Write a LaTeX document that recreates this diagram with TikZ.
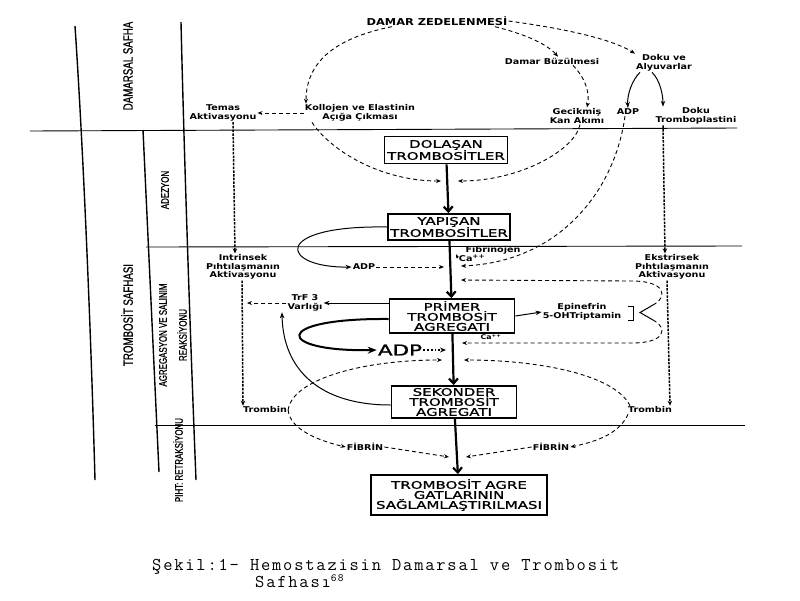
\documentclass[tikz,border=0pt]{standalone}
\usepackage{fontspec}
\setmainfont{DejaVu Sans}
\newfontfamily\boxfont[FakeStretch=1.43, FakeBold=1.2]{DejaVu Sans}
\newfontfamily\lblfont[FakeStretch=1.2]{DejaVu Sans}
\newfontfamily\sidefont[FakeStretch=0.72, FakeBold=0.8]{Liberation Sans}
\newfontfamily\capfont[LetterSpace=10]{Latin Modern Mono}
\usetikzlibrary{arrows.meta}

\tikzset{
  box/.style={draw, line width=1.8pt, align=center, inner sep=0pt, font=\boxfont\fontsize{10.5}{10}\selectfont},
  lbl/.style={align=center, inner sep=1pt, font=\lblfont\bfseries\fontsize{8}{8.5}\selectfont},
  side/.style={rotate=90, inner sep=0pt, font=\sidefont\fontsize{11}{12}\selectfont},
  captxt/.style={anchor=base west, inner sep=0pt, font=\capfont\fontsize{18}{19}\selectfont},
  tabline/.style={line width=1.4pt},
  hline/.style={line width=0.9pt},
  dsh/.style={dash pattern=on 4pt off 3pt, line width=0.9pt, -{Stealth[length=5pt,width=4pt]}},
  dts/.style={dash pattern=on 2.5pt off 1.2pt, line width=1.5pt, -{Stealth[length=5pt,width=4.5pt]}},
  sol/.style={line width=1pt, -{Stealth[length=6pt,width=4.5pt]}},
  mainarr/.style={line width=2.2pt, -{Straight Barb[length=5pt,width=9pt]}}
}

\begin{document}
\begin{tikzpicture}[x=1pt, y=-1pt]
\useasboundingbox (0,0) rectangle (800,600);
% table
\draw[tabline] (75,26) .. controls (82,130) and (90,300) .. (95,480);
\draw[tabline] (181,22) .. controls (184,150) and (190,330) .. (196,480);
\draw[tabline] (143,130) -- (159,472);
\draw[hline] (30,131) -- (737,128);
\draw[hline] (146,247) -- (742,246);
\draw[hline] (155,425) -- (745,425);
\node[side, font=\sidefont\fontsize{13.5}{14}\selectfont] (sdam) at (128,66) {DAMARSAL SAFHA};
\node[side, font=\sidefont\fontsize{13.5}{14}\selectfont] (strom) at (127,315) {TROMBOSİT SAFHASI};
\node[side] (sade) at (165,190) {ADEZYON};
\node[side] (sagr) at (163,335) {AGREGASYON VE SALINIM};
\node[side] (srea) at (182,335) {REAKSİYONU};
\node[side] (spih) at (178,460) {PIHT: RETRAKSİYONU};
% boxes
\node[box, minimum width=123pt, minimum height=27pt, font=\boxfont\fontsize{10.5}{12}\selectfont] (dol) at (446,150) {DOLAŞAN\\TROMBOSİTLER};
\node[box, minimum width=122pt, minimum height=26pt, font=\boxfont\fontsize{10.5}{12}\selectfont] (yap) at (449,227) {YAPIŞAN\\TROMBOSİTLER};
\node[box, minimum width=125pt, minimum height=34pt] (pri) at (452,316) {PRİMER\\TROMBOSİT\\AGREGATI};
\node[box, minimum width=125pt, minimum height=32pt] (sek) at (454,402) {SEKONDER\\TROMBOSİT\\AGREGATI};
\node[box, minimum width=176pt, minimum height=40pt] (sag) at (459,495) {TROMBOSİT AGRE\\GATLARININ\\SAĞLAMLAŞTIRILMASI};
% labels
\node[lbl, font=\lblfont\bfseries\fontsize{9.5}{10}\selectfont] (dz) at (437,21) {DAMAR ZEDELENMESİ};
\node[lbl] (db) at (552,61) {Damar Büzülmesi};
\node[lbl] (doku) at (664,63) {Doku ve\\Alyuvarlar};
\node[lbl] (gec) at (577,116) {Gecikmiş\\Kan Akımı};
\node[lbl] (adpt) at (628,112) {ADP};
\node[lbl] (tromb) at (696,116) {Doku\\Tromboplastini};
\node[lbl] (kol) at (360,113) {Kollojen ve Elastinin\\Açığa Çıkması};
\node[lbl] (temas) at (223,113) {Temas\\Aktivasyonu};
\node[lbl] (intr) at (243,267) {Intrinsek\\Pıhtılaşmanın\\Aktivasyonu};
\node[lbl] (ekst) at (672,267) {Ekstrirsek\\Pıhtılaşmanın\\Aktivasyonu};
\node[lbl] (fib) at (493,250) {Fibrinojen};
\node[lbl] (ca) at (472,258) {Ca\textsuperscript{++}};
\node[lbl] (adpm) at (364,267) {ADP};
\node[lbl] (trf) at (305,303) {TrF 3\\Varlığı};
\node[lbl] (epi) at (582,312) {Epinefrin\\5-OHTriptamin};
\node[lbl, font=\boxfont\fontsize{15}{15}\selectfont] (adpb) at (400,350) {ADP};
\node[lbl, font=\lblfont\bfseries\fontsize{6.5}{7}\selectfont] (ca2) at (491,337) {Ca\textsuperscript{++}};
\node[lbl] (trl) at (265,410) {Trombin};
\node[lbl] (trr) at (650,410) {Trombin};
\node[lbl] (fibl) at (365,447) {FİBRİN};
\node[lbl] (fibr) at (551,447) {FİBRİN};
% caption
\node[captxt] (cap1) at (152,570) {Şekil:1- Hemostazisin Damarsal ve Trombosit};
\node[captxt] (cap2) at (255,587) {Safhası\raisebox{6pt}{\fontsize{11}{11}\selectfont 68}};
% free ends on the main line
\coordinate (m1l) at (441,181);
\coordinate (m1r) at (458,181);
\coordinate (m2l) at (444,267);
\coordinate (m2r) at (461,266);
\coordinate (m3r) at (461,280);
\coordinate (m4r) at (462,343);
\coordinate (m5l) at (446,350);
\coordinate (m6l) at (442,360);
\coordinate (m6r) at (464,360);
\coordinate (m7l) at (449,457);
\coordinate (m7r) at (466,457);
\coordinate (m8) at (456,254);
\coordinate (trfl) at (247,303);
\coordinate (bu) at (653,305);
\coordinate (bl) at (653,320);
\coordinate (btip) at (640,312.5);
% vessel phase
\draw[dsh] ([xshift=-45pt]dz.south) .. controls (335,38) and (306,62) .. ([xshift=-54pt]kol.north);
\draw[dsh] ([xshift=58pt]dz.south) .. controls (520,33) and (545,42) .. ([xshift=6pt]db.north);
\draw[dsh] (dz.east) .. controls (560,28) and (610,38) .. ([xshift=-29pt]doku.north);
\draw[dsh] ([xshift=21pt]db.south) .. controls (585,78) and (590,92) .. ([xshift=10pt]gec.north);
\draw[sol] ([xshift=-24pt]doku.south) .. controls (632,80) and (627,95) .. (adpt.north);
\draw[sol] ([xshift=-12pt]doku.south) .. controls (660,80) and (663,95) .. ([xshift=-33pt]tromb.north);
\draw[dsh] (kol.west) -- (temas.east);
% coagulation columns
\draw[dts] ([xshift=10pt]temas.south) -- ([xshift=-8pt]intr.north);
\draw[dts] ([xshift=-1pt]intr.south) -- ([xshift=-22pt]trl.north);
\draw[dts] ([xshift=-33pt]tromb.south) -- ([xshift=-7pt]ekst.north);
\draw[dts] ([xshift=-5pt]ekst.south) -- ([xshift=20pt]trr.north);
% adhesion
\draw[dsh] ([xshift=-48pt]kol.south) .. controls (330,150) and (380,181) .. (m1l);
\draw[dsh] ([xshift=3pt]gec.south) .. controls (575,150) and (520,181) .. (m1r);
\draw[dsh] ([xshift=-3pt]adpt.south) .. controls (615,190) and (560,262) .. (m2r);
\draw[sol] (yap.west) .. controls (270,225) and (280,268) .. (adpm.west);
\draw[dsh] (adpm.east) -- (m2l);
\draw[line width=1pt, -{Stealth[length=4pt,width=3pt]}] (ca.west) -- (m8);
% release
\draw[sol] (pri.east) -- (epi.west);
\draw[line width=1pt] (628,306) -- (633,306) -- (633,320) -- (628,320); % bracket
\draw[line width=1pt] (bu) -- (btip) -- (bl);
\draw[dsh] (bu) .. controls (668,297) and (666,281) .. (632,281) -- (m3r);
\draw[dsh] (bl) .. controls (668,328) and (666,343) .. (632,343) -- (m4r);
\draw[sol] ([yshift=13pt]pri.west) -- (trf.east);
\draw[dsh] (trf.west) -- (trfl);
\draw[line width=2pt, -{Stealth[length=9pt,width=7pt]}] ([yshift=-3pt]pri.west) .. controls (270,318) and (275,352) .. (adpb.west);
\draw[dotted, line width=1.8pt, -{Stealth[length=6pt,width=5pt]}] (adpb.east) -- (m5l);
\draw[sol] ([yshift=-3pt]sek.west) .. controls (320,405) and (283,370) .. ([xshift=-23pt]trf.south);
% trombin and fibrin
\draw[dsh] (trl.east) .. controls (292,380) and (360,360) .. (m6l);
\draw[dsh] (trl.east) .. controls (290,430) and (320,441) .. (fibl.west);
\draw[dsh] ([xshift=-20pt]trr.north) .. controls (615,375) and (540,360) .. (m6r);
\draw[dsh] ([xshift=-22pt]trr.south) .. controls (620,432) and (600,441) .. (fibr.east);
\draw[dsh] (fibl.east) -- (m7l);
\draw[dsh] (fibr.west) -- (m7r);
% main chain
\draw[mainarr] (dol) -- (yap);
\draw[mainarr] (yap) -- (pri);
\draw[mainarr] (pri) -- (sek);
\draw[mainarr] (sek) -- (sag);
\end{tikzpicture}
\end{document}
